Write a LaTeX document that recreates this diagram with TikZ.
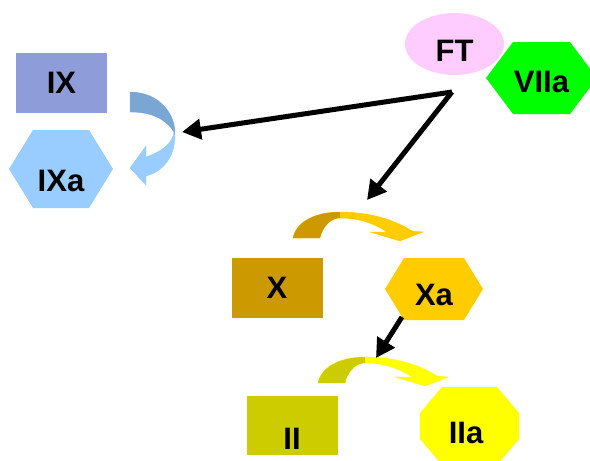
\documentclass[tikz,border=0pt]{standalone}
\usepackage{fontspec}
\setmainfont{Liberation Sans}
\usetikzlibrary{shapes.geometric,arrows.meta}

\definecolor{lila}{RGB}{142,156,218}
\definecolor{celeste}{RGB}{153,204,255}
\definecolor{celesteosc}{RGB}{122,166,212}
\definecolor{rosa}{RGB}{255,204,255}
\definecolor{verdevivo}{RGB}{0,255,0}
\definecolor{ocre}{RGB}{204,153,0}
\definecolor{oro}{RGB}{255,204,0}
\definecolor{oliva}{RGB}{204,204,0}
\definecolor{amarillo}{RGB}{255,255,0}

\begin{document}
\begin{tikzpicture}[x=1pt, y=-1pt, font=\bfseries\fontsize{31}{34}\selectfont,
    caja/.style={rectangle, inner sep=0pt, minimum width=91pt, minimum height=60pt},
    flecha/.style={line width=5pt, -{Triangle[length=19pt,width=20pt]}}]
    \useasboundingbox (0,0) rectangle (590,461);

    % curved arrows
    \fill[celeste, draw=celeste] (130,92) .. controls (160,92) and (176,115) .. (175,135)
        .. controls (175,158) and (162,172) .. (146,176) -- (146,185) -- (130,168) -- (146,146) -- (146,157)
        .. controls (160,152) and (172,145) .. (174,132)
        .. controls (165,118) and (150,112) .. (130,112) -- cycle;
    \fill[celesteosc] (130,92) .. controls (160,92) and (176,115) .. (175,135) -- (174,132)
        .. controls (165,118) and (150,112) .. (130,112) -- cycle;

    \fill[oro, draw=oro] (293,238) .. controls (296,222) and (315,212) .. (340,212)
        .. controls (370,212) and (395,220) .. (412,231) -- (423,232) -- (400,241) -- (370,232) -- (387,232)
        .. controls (375,224) and (360,218) .. (340,218)
        .. controls (330,218) and (322,228) .. (320,238) -- cycle;
    \fill[ocre] (293,238) .. controls (296,222) and (315,212) .. (340,212) -- (340,218)
        .. controls (330,218) and (322,228) .. (320,238) -- cycle;

    \begin{scope}[shift={(25,145)}]
        \fill[amarillo, draw=amarillo] (293,238) .. controls (296,222) and (315,212) .. (340,212)
            .. controls (370,212) and (395,220) .. (412,231) -- (423,232) -- (400,241) -- (370,232) -- (387,232)
            .. controls (375,224) and (360,218) .. (340,218)
            .. controls (330,218) and (322,228) .. (320,238) -- cycle;
        \fill[oliva] (293,238) .. controls (296,222) and (315,212) .. (340,212) -- (340,218)
            .. controls (330,218) and (322,228) .. (320,238) -- cycle;
    \end{scope}

    % hexagons and octagon
    \fill[celeste] (9,169) -- (33,130) -- (89,130) -- (113,169) -- (89,208) -- (33,208) -- cycle;
    \fill[verdevivo] (486,78) -- (513,42) -- (570,42) -- (597,78) -- (570,114) -- (513,114) -- cycle;
    \fill[oro] (385,289) -- (404,258) -- (464,258) -- (483,289) -- (464,320) -- (404,320) -- cycle;
    \fill[amarillo] (420,413) -- (442,387) -- (497,387) -- (519,413) -- (519,439) -- (497,465)
        -- (442,465) -- (420,439) -- cycle;

    % factors
    \node[caja, fill=lila] (IX) at (61.5,83) {IX};
    \node (IXa) at (61,181) {IXa};
    \node[ellipse, fill=rosa, inner sep=0pt, minimum width=99pt, minimum height=62pt,
        label={[yshift=-7pt]center:FT}] (FT) at (454.5,44) {};
    \node (VIIa) at (541.5,81.5) {VIIa};
    \node[caja, fill=ocre] (X) at (277,287.5) {X};
    \node (Xa) at (434,295) {Xa};
    \node[caja, fill=oliva, minimum height=59pt,
        label={[yshift=-13pt]center:II}] (II) at (292,425.5) {};
    \node (IIa) at (466,433) {IIa};

    % straight arrows
    \coordinate (s) at (452,92);
    \coordinate (t1) at (182,132);
    \coordinate (t2) at (367,200);
    \coordinate (s3) at (402,317);
    \coordinate (t3) at (376,358);
    \draw[flecha] (s) -- (t1);
    \draw[flecha] (s) -- (t2);
    \draw[flecha] (s3) -- (t3);
\end{tikzpicture}
\end{document}
